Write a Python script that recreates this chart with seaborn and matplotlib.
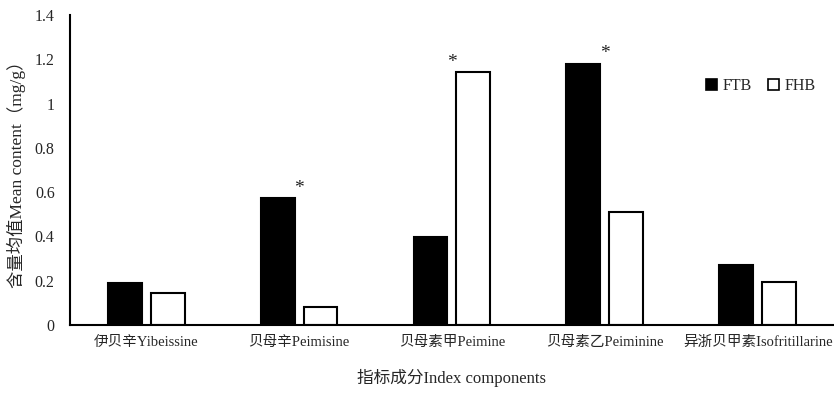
import matplotlib
matplotlib.use("Agg")
import matplotlib.pyplot as plt
import seaborn as sns
import pandas as pd
from matplotlib.patches import Patch

categories = ["伊贝辛Yibeissine", "贝母辛Peimisine", "贝母素甲Peimine",
              "贝母素乙Peiminine", "异浙贝甲素Isofritillarine"]
ftb = [0.188, 0.572, 0.399, 1.179, 0.270]
fhb = [0.143, 0.083, 1.141, 0.512, 0.194]
groups = ["FTB", "FHB"]
significant = [False, True, True, True, False]
y_ticks = [0, 0.2, 0.4, 0.6, 0.8, 1.0, 1.2, 1.4]
y_tick_labels = ["0", "0.2", "0.4", "0.6", "0.8", "1", "1.2", "1.4"]

sns.set_theme(style="white")
plt.rcParams["font.family"] = ["Liberation Serif", "Noto Sans CJK SC", "DejaVu Sans"]

df = pd.DataFrame({
    "component": categories * 2,
    "group": [groups[0]] * len(categories) + [groups[1]] * len(categories),
    "value": ftb + fhb,
})

fig = plt.figure(figsize=(8.34, 3.97), dpi=100)
ax = fig.add_axes([0.0839, 0.1814, 0.9161, 0.7808])

sns.barplot(data=df, x="component", y="value", hue="group",
            order=categories, hue_order=groups,
            palette={"FTB": "black", "FHB": "white"},
            edgecolor="black", linewidth=1.5,
            width=0.56, gap=0.21, ax=ax, legend=False)

# significance marks over the group
for i, (a, b, s) in enumerate(zip(ftb, fhb, significant)):
    if s:
        ax.text(i, max(a, b) + 0.045, "*", ha="center", va="center",
                fontsize=14, color="#222222")

ax.set_xlim(-0.5, 4.5)
ax.set_ylim(0, 1.4)
ax.set_yticks(y_ticks)
ax.set_yticklabels(y_tick_labels, fontsize=11.5)
ax.tick_params(axis="x", labelsize=10.5, length=0, pad=8)
ax.tick_params(axis="y", length=0, pad=11)

for side in ["top", "right"]:
    ax.spines[side].set_visible(False)
for side in ["left", "bottom"]:
    ax.spines[side].set_color("black")
    ax.spines[side].set_linewidth(1.5)

ax.set_xlabel("指标成分Index components", fontsize=12, labelpad=14)
ax.set_ylabel("含量均值Mean content（mg/g）", fontsize=12.5, labelpad=6)

handles = [Patch(facecolor="black", edgecolor="black", linewidth=1.2, label="FTB"),
           Patch(facecolor="white", edgecolor="black", linewidth=1.2, label="FHB")]
ax.legend(handles=handles, ncol=2, frameon=False, fontsize=11.5,
          loc="center right", bbox_to_anchor=(0.995, 0.77),
          handlelength=0.7, handleheight=0.7, handletextpad=0.35,
          columnspacing=1.0)

fig.savefig("out.png", dpi=100, facecolor="white")
